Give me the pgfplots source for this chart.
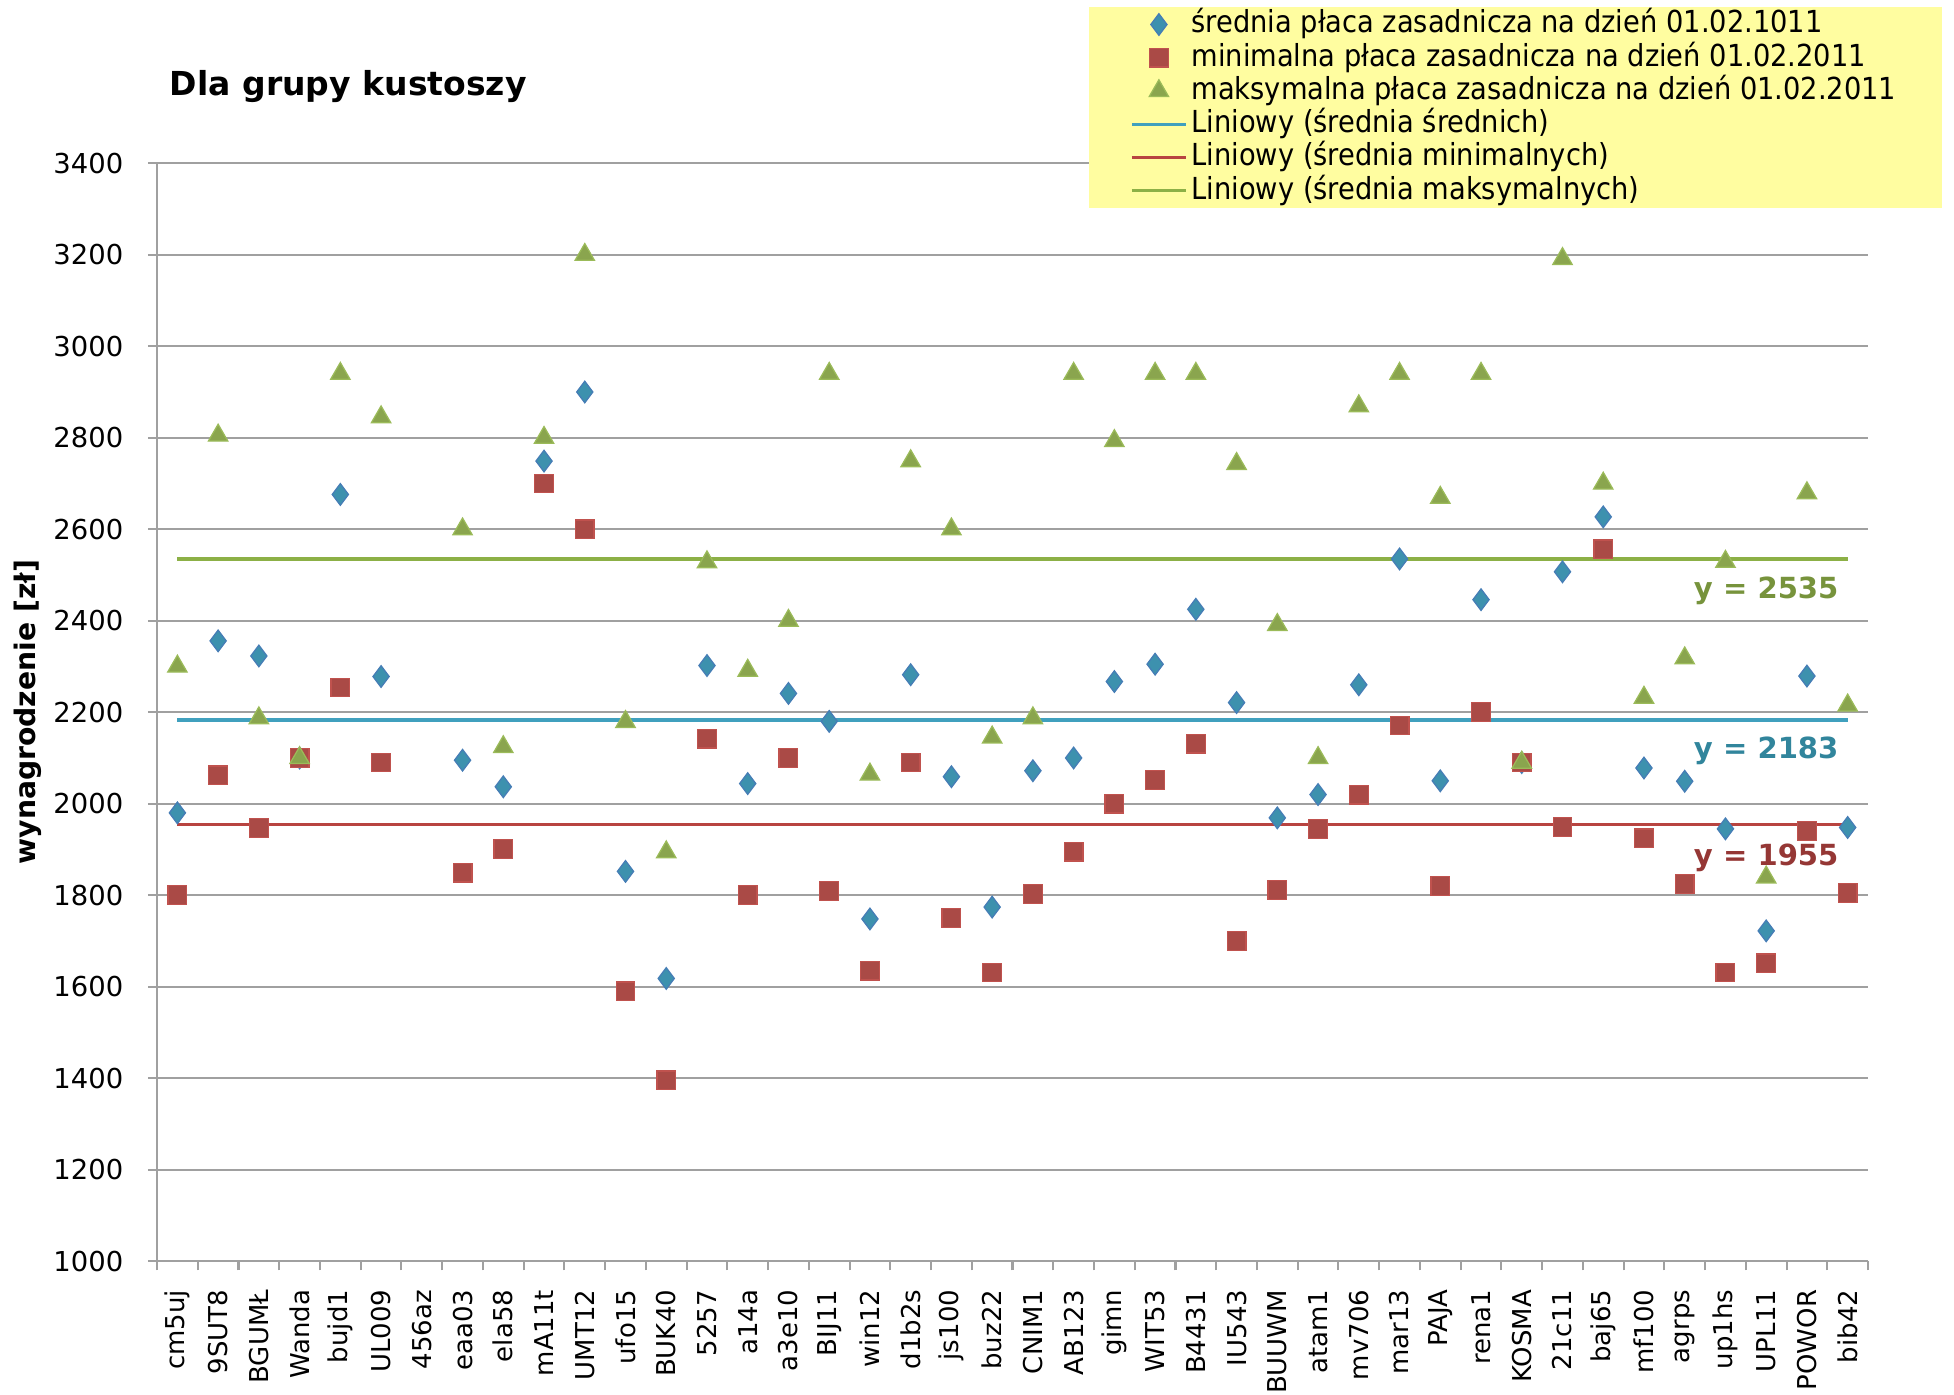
\documentclass[border=0pt]{standalone}
\usepackage{fontspec}
\setmainfont{DejaVu Sans}
\newfontfamily\cond{DejaVu Sans Condensed}
\usepackage{pgfplots}
\usepackage{pgfplotstable}
\pgfplotsset{compat=1.18}

\definecolor{avgfill}{RGB}{61,145,174}
\definecolor{avgdraw}{RGB}{70,125,182}
\definecolor{minfill}{RGB}{170,74,70}
\definecolor{mindraw}{RGB}{192,82,78}
\definecolor{maxfill}{RGB}{138,165,78}
\definecolor{maxdraw}{RGB}{155,187,89}
\definecolor{tealline}{RGB}{64,160,190}
\definecolor{redline}{RGB}{184,68,64}
\definecolor{greenline}{RGB}{140,176,70}
\definecolor{teallab}{RGB}{49,133,156}
\definecolor{redlab}{RGB}{149,55,53}
\definecolor{greenlab}{RGB}{119,147,60}
\definecolor{legbg}{RGB}{255,253,160}
\definecolor{gridgray}{RGB}{160,160,160}

\pgfplotsset{
    markleg/.style={legend image code/.code={\draw[##1] plot coordinates {(6.5pt,0pt)};}},
    lineleg/.style={legend image code/.code={\draw[##1] (0pt,0pt) -- (13pt,0pt);}},
}

% x: category index, avg / min / max basic salary
\pgfplotstableread{
x avg min max
0 1980 1800 2300
1 2356 2062 2805
2 2323 1947 2187
3 2100 2100 2100
4 2676 2254 2940
5 2278 2090 2845
6 nan nan nan
7 2095 1849 2600
8 2037 1901 2124
9 2749 2700 2800
10 2900 2600 3200
11 1852 1590 2179
12 1618 1395 1894
13 2302 2142 2528
14 2044 1800 2291
15 2241 2100 2400
16 2180 1809 2940
17 1748 1635 2064
18 2282 2090 2749
19 2059 1750 2600
20 1774 1631 2145
21 2072 1803 2187
22 2100 1895 2940
23 2267 2000 2793
24 2305 2052 2940
25 2425 2131 2940
26 2221 1700 2743
27 1969 1811 2391
28 2020 1945 2100
29 2260 2020 2869
30 2535 2171 2940
31 2050 1820 2669
32 2446 2200 2940
33 2090 2090 2090
34 2507 1949 3191
35 2627 2556 2700
36 2078 1924 2232
37 2049 1824 2318
38 1945 1631 2529
39 1722 1651 1839
40 2279 1940 2679
41 1948 1805 2215
}\data

\begin{document}
\begin{tikzpicture}
\useasboundingbox (-37.8pt,-32.1pt) rectangle (432.6pt,303.6pt);
\begin{axis}[
    scale only axis,
    width=411.9pt, height=264.3pt,
    xmin=-0.5, xmax=41.5,
    ymin=1000, ymax=3400,
    ytick={1000,1200,...,3400},
    xtick={0,...,41},
    xticklabels={cm5uj,9SUT8,BGUMŁ,Wanda,bujd1,UL009,456az,eaa03,ela58,mA11t,UMT12,ufo15,BUK40,5257,a14a,a3e10,BIJ11,win12,d1b2s,js100,buz22,CNIM1,AB123,gimn,WIT53,B4431,IU543,BUUWM,atam1,mv706,mar13,PAJA,rena1,KOSMA,21c11,baj65,mf100,agrps,up1hs,UPL11,POWOR,bib42},
    minor xtick={-0.5,0.5,...,41.5},
    axis x line=bottom, axis y line=left,
    axis line style={-, gridgray, line width=0.6pt},
    tick align=outside,
    major tick length=2.2pt, minor tick length=2.2pt,
    x tick style={draw=none},
    minor x tick style={draw=gridgray, line width=0.5pt},
    y tick style={gridgray, line width=0.5pt},
    ymajorgrids, grid style={gridgray, line width=0.5pt},
    tick label style={font=\fontsize{6.6}{7.5}\selectfont, black},
    /pgf/number format/assume math mode=true,
    /pgf/number format/1000 sep={},
    yticklabel style={xshift=-2.4pt},
    xticklabel style={rotate=90, anchor=east, xshift=-1.2pt,
        font=\fontsize{6.25}{7.5}\selectfont},
    ylabel={wynagrodzenie [zł]},
    ylabel style={at={(axis description cs:-0.0757,0.5)}, anchor=center,
        font=\bfseries\fontsize{6.8}{8}\selectfont},
    clip=false,
    legend style={at={(axis description cs:0.5441,1.143)}, anchor=north west,
        fill=legbg, draw=none, inner xsep=10pt, inner ysep=0.2pt,
        row sep=0pt, column sep=0pt,
        font=\cond\fontsize{7.3}{8}\selectfont,
        nodes={inner ysep=0.4pt, inner xsep=1pt, text height=5.6pt, text depth=1.6pt}},
    legend cell align=left,
]
\addplot[only marks, mark=diamond*, mark size=2.6pt,
    mark options={fill=avgfill, draw=avgdraw, line width=0.3pt}, markleg]
    table[x=x, y=avg]{\data};
\addplot[only marks, mark=square*, mark size=2.25pt,
    mark options={fill=minfill, draw=mindraw, line width=0.3pt}, markleg]
    table[x=x, y=min]{\data};
\addplot[only marks, mark=triangle*, mark size=2.7pt,
    mark options={fill=maxfill, draw=maxdraw, line width=0.3pt}, markleg]
    table[x=x, y=max]{\data};
\addplot[tealline, line width=0.75pt, no marks, lineleg]
    coordinates {(0,2183) (41,2183)};
\addplot[redline, line width=0.75pt, no marks, lineleg]
    coordinates {(0,1955) (41,1955)};
\addplot[greenline, line width=0.75pt, no marks, lineleg]
    coordinates {(0,2535) (41,2535)};
\legend{średnia płaca zasadnicza na dzień 01.02.1011,
    minimalna płaca zasadnicza na dzień 01.02.2011,
    maksymalna płaca zasadnicza na dzień 01.02.2011,
    Liniowy (średnia średnich),
    Liniowy (średnia minimalnych),
    Liniowy (średnia maksymalnych)}
\node[greenlab, font=\bfseries\fontsize{7}{8}\selectfont] at (axis cs:39,2465) {y = 2535};
\node[teallab, font=\bfseries\fontsize{7}{8}\selectfont] at (axis cs:39,2115) {y = 2183};
\node[redlab, font=\bfseries\fontsize{7}{8}\selectfont] at (axis cs:39,1881) {y = 1955};
\node[anchor=base west, font=\bfseries\fontsize{7.95}{9}\selectfont]
    at (axis description cs:-0.001,1.062) {Dla grupy kustoszy};
\end{axis}
\end{tikzpicture}
\end{document}
